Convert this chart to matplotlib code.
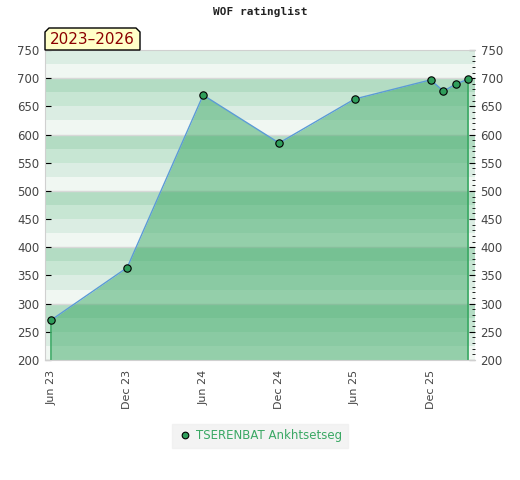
import datetime as dt
import matplotlib
matplotlib.use("Agg")
import matplotlib.pyplot as plt
from matplotlib.patches import Polygon
from matplotlib.ticker import MultipleLocator

# data
months = ["2023-06", "2023-12", "2024-06", "2024-12", "2025-06",
          "2025-12", "2026-01", "2026-02", "2026-03"]
ratings = [271, 364, 670, 585, 663, 697, 677, 690, 698]
player = "TSERENBAT Ankhtsetseg"
period = "2023\u20132026"
tick_months = ["2023-06", "2023-12", "2024-06", "2024-12", "2025-06", "2025-12"]
tick_labels = ["Jun 23", "Dec 23", "Jun 24", "Dec 24", "Jun 25", "Dec 25"]

dates = [dt.datetime.strptime(m, "%Y-%m") for m in months]
ticks = [dt.datetime.strptime(m, "%Y-%m") for m in tick_months]

ymin, ymax = 200, 750
band_cols = ["#f0f7f2", "#dbede3", "#c7e6d3", "#b3dcc3"]  # bottom -> top in each 100
green = "#2f9e5b"

fig = plt.figure(figsize=(5.2, 4.8), dpi=100)
ax = fig.add_axes([45/520, 1-360/480, 430/520, 310/480])

# striped background
for b in range(ymin, ymax, 25):
    ax.axhspan(b, b + 25, color=band_cols[(b % 100) // 25], lw=0, zorder=0)
for g in range(300, ymax, 100):
    ax.axhline(g, color="#d8d8d8", lw=1, zorder=0.5)

ax.fill_between(dates, ratings, ymin, color="#3aa864", alpha=0.5, lw=0, zorder=1)
ax.vlines([dates[0], dates[-1]], ymin, [ratings[0], ratings[-1]],
          color="#3aa864", lw=1.2, zorder=2)
ax.plot(dates, ratings, color="#5b9bd5", lw=1.0, zorder=3)
ax.plot(dates, ratings, "o", color=green, mec="black", mew=0.8, ms=5.3,
        zorder=4, label=player)

ax.set_xlim(dt.datetime(2023, 5, 17), dt.datetime(2026, 3, 18))
ax.set_ylim(ymin, ymax)
ax.set_xticks(ticks)
ax.set_xticklabels(tick_labels, rotation=90, fontsize=8, color="#444444")
ax.set_yticks(range(200, 751, 50))
ax.tick_params(axis="y", labelsize=8.5, labelcolor="#444444", length=0,
               labelleft=True, labelright=True, pad=4)
ax.tick_params(axis="x", length=0, pad=7)
ax.yaxis.set_minor_locator(MultipleLocator(10))
ax.tick_params(axis="y", which="both", right=True, direction="in")
ax.tick_params(axis="y", which="major", right=True, length=4, color="black")
ax.tick_params(axis="y", which="minor", left=False, right=True, length=2.5,
               color="black")
for s in ax.spines.values():
    s.set_color("#d0d0d0")
ax.spines["right"].set_visible(False)

fig.text(0.5, 0.975, "WOF ratinglist", ha="center", va="center",
         family="DejaVu Sans Mono", fontsize=8, fontweight="bold", color="#222222")

# period label box with clipped top corners
x0, x1 = 45/520, 140/520
y0, y1 = 1-50/480, 1-28/480
cx, cy = 4/520, 4/480
box = Polygon([(x0, y0), (x0, y1-cy), (x0+cx, y1), (x1-cx, y1), (x1, y1-cy), (x1, y0)],
              closed=True, transform=fig.transFigure, facecolor="#ffffc8",
              edgecolor="black", lw=1, zorder=5)
fig.add_artist(box)
fig.text((x0+x1)/2, (y0+y1)/2, period, ha="center", va="center",
         fontsize=11, color="#8b0000", zorder=6)

leg = fig.legend(loc="center", bbox_to_anchor=(0.5, 1-436/480), frameon=True,
                 fontsize=8.5, handletextpad=0.4, borderpad=0.5, fancybox=False,
                 markerscale=0.9, handlelength=1.2)
leg.get_frame().set_facecolor("#f0f0f0")
leg.get_frame().set_edgecolor("#f0f0f0")
for t in leg.get_texts():
    t.set_color("#3aa864")

fig.savefig("out.png", dpi=100)
